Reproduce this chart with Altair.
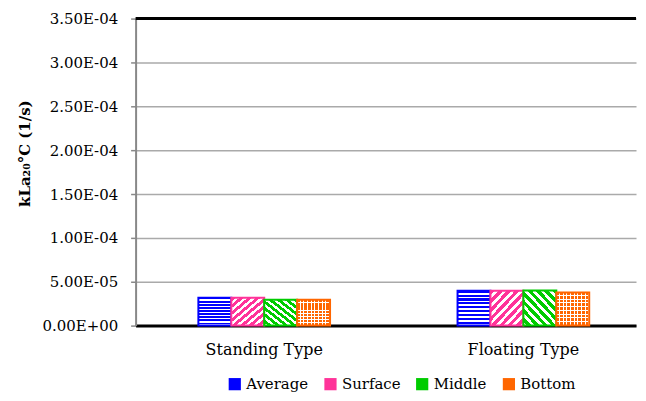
import altair as alt
import pandas as pd

# ---- data ----
types = ["Standing Type", "Floating Type"]
series = ["Average", "Surface", "Middle", "Bottom"]
standing_values = [3.18e-5, 3.18e-5, 2.95e-5, 2.95e-5]
floating_values = [3.98e-5, 3.98e-5, 4.00e-5, 3.78e-5]
colors = ["#0000FF", "#FF3399", "#00CC00", "#FF6600"]
y_ticks = [0, 5e-5, 1e-4, 1.5e-4, 2e-4, 2.5e-4, 3e-4, 3.5e-4]
y_title = "kLa₂₀°C (1/s)"

rows = []
for t, vals in zip(types, [standing_values, floating_values]):
    for s, v in zip(series, vals):
        rows.append({"type": t, "series": s, "value": v})
df = pd.DataFrame(rows)

FONT = "DejaVu Serif"
CLEAR = "rgba(255,255,255,0)"


def stripes(c1, c2, n, x1, y1, x2, y2, frac=0.5):
    stops = []
    for i in range(n):
        a = i / n
        m = (i + frac) / n
        b = (i + 1) / n
        stops += [
            {"offset": a, "color": c1},
            {"offset": m, "color": c1},
            {"offset": m, "color": c2},
            {"offset": b, "color": c2},
        ]
    return {"gradient": "linear", "x1": x1, "y1": y1, "x2": x2, "y2": y2, "stops": stops}


x_enc = alt.X(
    "type:N",
    sort=types,
    scale=alt.Scale(domain=types, paddingInner=0.492, paddingOuter=0.2114, align=0.573),
    axis=alt.Axis(
        title=None,
        labelAngle=0,
        labelFont=FONT,
        labelFontSize=16,
        labelColor="black",
        labelPadding=16,
        ticks=False,
        domainColor="black",
        domainWidth=3,
    ),
)
xoff_enc = alt.XOffset("series:N", sort=series,
                       scale=alt.Scale(domain=series, paddingInner=0, paddingOuter=0))
y_enc = alt.Y(
    "value:Q",
    scale=alt.Scale(domain=[y_ticks[0], y_ticks[-1]], nice=False),
    axis=alt.Axis(
        title=y_title,
        values=y_ticks,
        labelExpr="datum.value == 0 ? '0.00E+00' : format(datum.value / pow(10, floor(log(datum.value) / LN10 + 1e-9)), '.2f') + 'E-0' + (-floor(log(datum.value) / LN10 + 1e-9))",
        labelFont=FONT,
        labelFontSize=15,
        labelColor="black",
        labelPadding=13,
        tickColor="#888888",
        tickSize=5,
        tickWidth=1.5,
        domainColor="#888888",
        domainWidth=2,
        grid=True,
        gridColor="#aaaaaa",
        gridWidth=1.5,
        titleFont=FONT,
        titleFontSize=15,
        titleFontWeight="bold",
        titleColor="black",
        titleAngle=270,
        titleAlign="center",
        titleBaseline="middle",
        titleX=-111,
        titleY=135,
    ),
)

base = alt.Chart(df).encode(x=x_enc, xOffset=xoff_enc, y=y_enc)

solid = base.mark_bar().encode(
    color=alt.Color(
        "series:N",
        sort=series,
        scale=alt.Scale(domain=series, range=colors),
        legend=alt.Legend(
            title=None,
            orient="none",
            direction="horizontal",
            legendX=92,
            legendY=359,
            symbolType="square",
            symbolSize=150,
            symbolStrokeWidth=0,
            labelFont=FONT,
            labelFontSize=15,
            labelColor="black",
            labelOffset=4,
            columnPadding=14,
            padding=0,
        ),
    )
)

patterns = {
    "Average": [stripes(colors[0], "#ffffff", 9, 0, 0, 0, 1, 0.55)],
    "Surface": [stripes(colors[1], "#ffffff", 8, 0, 0, 1, 1, 0.55)],
    "Middle": [stripes(colors[2], "#ffffff", 8, 1, 0, 0, 1, 0.55)],
    "Bottom": [stripes(colors[3], "#ffffff", 9, 0, 0, 0, 1, 0.72),
               stripes(CLEAR, "#ffffff", 9, 0, 0, 1, 0, 0.72)],
}

layers = [solid]
for s, c in zip(series, colors):
    grads = patterns[s]
    for k, g in enumerate(grads):
        last = k == len(grads) - 1
        if last:
            props = {"fill": g, "stroke": c, "strokeWidth": 2}
        else:
            props = {"fill": g, "strokeWidth": 0}
        layers.append(base.transform_filter(alt.datum.series == s).mark_bar(**props))

top_line = alt.Chart(pd.DataFrame({"y": [y_ticks[-1]]})).mark_rule(
    color="black", strokeWidth=3
).encode(y=alt.Y("y:Q"))
layers.append(top_line)

chart = alt.layer(*layers).properties(
    width=502,
    height=308,
    padding={"left": 10, "top": 3, "right": 0, "bottom": 0},
    background="white",
).configure(font=FONT).configure_view(stroke=None)

chart.save("out.html", embed_options={"renderer": "svg", "actions": False})
